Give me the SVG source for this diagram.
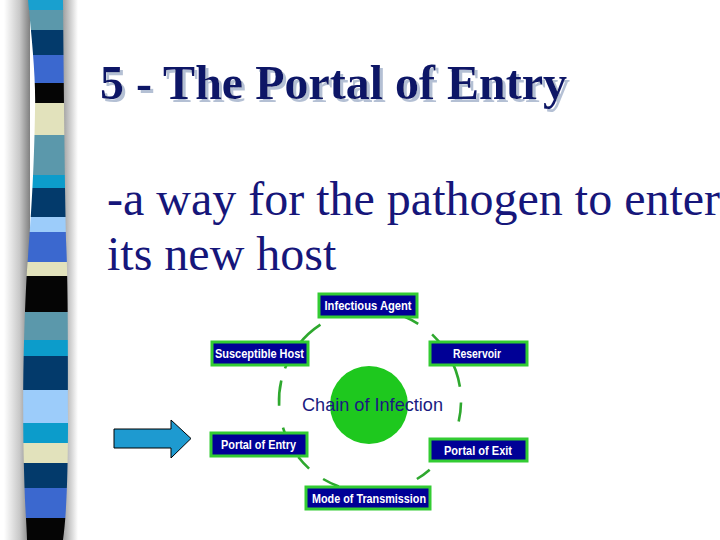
<svg xmlns="http://www.w3.org/2000/svg" width="720" height="540" viewBox="0 0 720 540">
<defs>
<linearGradient id="shL" x1="0" y1="0" x2="1" y2="0">
<stop offset="0" stop-color="#ffffff"/>
<stop offset="0.6" stop-color="#c8c8c8"/>
<stop offset="1" stop-color="#808080"/>
</linearGradient>
<linearGradient id="shR" x1="0" y1="0" x2="1" y2="0">
<stop offset="0" stop-color="#9a9a9a"/>
<stop offset="1" stop-color="#ffffff"/>
</linearGradient>
<clipPath id="stripClip">
<path d="M28,0 C32,40 36,80 35,110 C34,180 30,230 27,270 C24,320 22,400 24,470 C25,510 27,530 27,540 L63,540 C66,520 68,480 68,420 C68,340 68,280 66,240 C65,200 64,120 63,0 Z"/>
</clipPath>
<filter id="tshadow" x="-5%" y="-20%" width="110%" height="140%">
<feFlood flood-color="#b4c0d4" result="c"/>
<feComposite in="c" in2="SourceAlpha" operator="in" result="s"/>
<feOffset in="s" dx="3" dy="3" result="o"/>
<feMerge><feMergeNode in="o"/><feMergeNode in="SourceGraphic"/></feMerge>
</filter>
</defs>
<style>
.box{fill:#000096;stroke:#33cc33;stroke-width:3}
.lbl{font-family:"Liberation Sans",Arial,sans-serif;font-weight:bold;font-size:12px;fill:#ffffff;text-anchor:middle}
.conn{fill:none;stroke:#2ea82e;stroke-width:2.6;stroke-linecap:butt}
</style>
<rect width="720" height="540" fill="#ffffff"/>
<g id="strip">
<rect x="4" y="0" width="26" height="540" fill="url(#shL)"/>
<rect x="62" y="0" width="16" height="540" fill="url(#shR)"/>
<g clip-path="url(#stripClip)">
<rect x="20" y="0" width="52" height="10" fill="#19a0cf"/>
<rect x="20" y="10" width="52" height="20" fill="#5b98ab"/>
<rect x="20" y="30" width="52" height="25" fill="#033a6b"/>
<rect x="20" y="55" width="52" height="28" fill="#3b68cf"/>
<rect x="20" y="83" width="52" height="20" fill="#050505"/>
<rect x="20" y="103" width="52" height="32" fill="#e2e2bc"/>
<rect x="20" y="135" width="52" height="40" fill="#5b98ab"/>
<rect x="20" y="175" width="52" height="13" fill="#0c9ccb"/>
<rect x="20" y="188" width="52" height="29" fill="#033a6b"/>
<rect x="20" y="217" width="52" height="15" fill="#9cccfa"/>
<rect x="20" y="232" width="52" height="30" fill="#3b68cf"/>
<rect x="20" y="262" width="52" height="14" fill="#e2e2bc"/>
<rect x="20" y="276" width="52" height="36" fill="#050505"/>
<rect x="20" y="312" width="52" height="28" fill="#5b98ab"/>
<rect x="20" y="340" width="52" height="16" fill="#0c9ccb"/>
<rect x="20" y="356" width="52" height="34" fill="#033a6b"/>
<rect x="20" y="390" width="52" height="33" fill="#9cccfa"/>
<rect x="20" y="423" width="52" height="20" fill="#0c9ccb"/>
<rect x="20" y="443" width="52" height="20" fill="#e2e2bc"/>
<rect x="20" y="463" width="52" height="25" fill="#033a6b"/>
<rect x="20" y="488" width="52" height="30" fill="#3b68cf"/>
<rect x="20" y="518" width="52" height="22" fill="#050505"/>
</g>
</g>
<g id="title">
<text x="100" y="99" font-family="'Liberation Serif','Times New Roman',serif" font-weight="bold" font-size="48" fill="#0c1466" filter="url(#tshadow)">5 - The Portal of Entry</text>
</g>
<g id="body" font-family="'Liberation Serif','Times New Roman',serif" font-size="48" fill="#16167a">
<text x="107" y="215">-a way for the pathogen to enter</text>
<text x="107" y="270">its new host</text>
</g>
<g id="arrow">
<path d="M114,429 L171,429 L171,420 L191,438.5 L171,458 L171,448 L114,448 Z" fill="#1e9ad0" stroke="#000000" stroke-width="1"/>
</g>
<g id="connectors">
<path class="conn" d="M298.3,345.0 A91,91 0 0 1 320.4,324.7"/>
<path class="conn" d="M335.9,316.6 A91,91 0 0 1 362.1,310.3"/>
<path class="conn" d="M388.9,312.0 A91,91 0 0 1 418.2,323.8"/>
<path class="conn" d="M432.1,334.4 A91,91 0 0 1 444.5,348.8"/>
<path class="conn" d="M448.8,355.5 A91,91 0 0 1 459.9,386.8"/>
<path class="conn" d="M461.0,402.6 A91,91 0 0 1 458.7,421.5"/>
<path class="conn" d="M429.7,469.7 A91,91 0 0 1 416.9,479.0"/>
<path class="conn" d="M338.9,486.5 A91,91 0 0 1 323.1,479.0"/>
<path class="conn" d="M309.1,468.6 A91,91 0 0 1 298.3,457.0"/>
<path class="conn" d="M287.5,439.5 A91,91 0 0 1 283.0,427.6"/>
<path class="conn" d="M279.1,405.8 A91,91 0 0 1 281.3,380.5"/>
<path class="conn" d="M285.0,368.4 A91,91 0 0 1 292.8,352.8"/>
</g>
<g id="center">
<circle cx="369" cy="405" r="39" fill="#1ec81e"/>
<text x="302" y="411" font-family="'Liberation Sans',Arial,sans-serif" font-size="19" fill="#1a1a80" textLength="141" lengthAdjust="spacingAndGlyphs">Chain of Infection</text>
</g>
<g id="infectious-agent">
<rect class="box" x="319" y="294" width="98" height="23"/>
<text class="lbl" x="368" y="310" textLength="87" lengthAdjust="spacingAndGlyphs">Infectious Agent</text>
</g>
<g id="reservoir">
<rect class="box" x="430" y="342" width="97" height="23"/>
<text class="lbl" x="477" y="358" textLength="48" lengthAdjust="spacingAndGlyphs">Reservoir</text>
</g>
<g id="portal-of-exit">
<rect class="box" x="430" y="439" width="97" height="22"/>
<text class="lbl" x="478" y="455" textLength="68" lengthAdjust="spacingAndGlyphs">Portal of Exit</text>
</g>
<g id="mode-of-transmission">
<rect class="box" x="306" y="487" width="124" height="22"/>
<text class="lbl" x="369" y="502.5" textLength="114" lengthAdjust="spacingAndGlyphs">Mode of Transmission</text>
</g>
<g id="portal-of-entry">
<rect class="box" x="211" y="433" width="96" height="23"/>
<text class="lbl" x="258.5" y="449" textLength="75" lengthAdjust="spacingAndGlyphs">Portal of Entry</text>
</g>
<g id="susceptible-host">
<rect class="box" x="212" y="342" width="96" height="23"/>
<text class="lbl" x="259.5" y="358" textLength="89" lengthAdjust="spacingAndGlyphs">Susceptible Host</text>
</g>
</svg>
